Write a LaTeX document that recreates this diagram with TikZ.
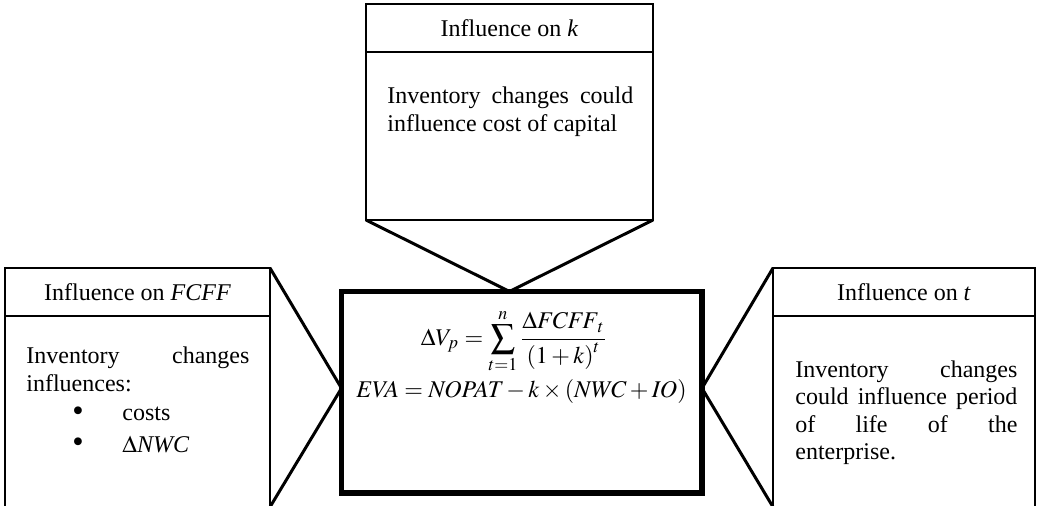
\documentclass[tikz,border=0pt]{standalone}
\usepackage{mathptmx}
\usepackage[no-math]{fontspec}
\setmainfont{Liberation Serif}
\usetikzlibrary{positioning,calc}

\newcommand{\bigdot}{\raisebox{-0.2pt}{\scalebox{1.35}{\textbullet}}}

\tikzset{
  cell/.style={draw, line width=0.7pt, rectangle, inner sep=0pt, outer sep=0pt},
  body/.style={inner sep=0pt, align=justify, anchor=north west},
  formula/.style={inner sep=0pt},
  arm/.style={line width=1.5pt},
  core/.style={draw, line width=2.6pt, rectangle, inner sep=0pt, outer sep=0pt}
}

\begin{document}
\begin{tikzpicture}[x=0.5pt, y=-0.5pt, font=\fontsize{12}{13.8}\selectfont]
        \useasboundingbox (0,0) rectangle (1038,506);

        % central box
        \node[core, minimum width=180.25pt, minimum height=100.75pt] (centre) at (521.75,392.25) {};
        \node[formula] (npv) at (514,341) {$\displaystyle \Delta V_{p}=\sum_{t=1}^{n}\frac{\Delta \mathit{FCFF}_{t}}{\left(1+k\right)^{t}}$};
        \node[formula] (eva) at (521.5,392) {$\mathit{EVA}=\mathit{NOPAT}-k\times(\mathit{NWC}+\mathit{IO})$};

        % top box
        \node[cell, minimum width=143.5pt, minimum height=24pt] (khead) at (509.5,28) {Influence on \textit{k}};
        \node[cell, minimum width=143.5pt, minimum height=84pt, below=0pt of khead] (kbody) {};
        \node[body, text width=123pt] (ktext) at (387,86.5) {Inventory changes could\linebreak influence cost of capital};

        % left box
        \node[cell, minimum width=132.5pt, minimum height=24pt] (fhead) at (137.5,292) {Influence on \textit{FCFF}};
        \node[cell, minimum width=132.5pt, minimum height=95.5pt, below=0pt of fhead] (fbody) {};
        \node[body, text width=111.5pt] (ftext) at (26,346.5) {Inventory changes\linebreak influences:\\[1pt]
          \makebox[48pt][l]{\hspace*{23pt}\bigdot}costs\\[2pt]
          \makebox[48pt][l]{\hspace*{23pt}\bigdot}\(\Delta\)\textit{NWC}};

        % right box
        \node[cell, minimum width=131pt, minimum height=24pt] (thead) at (904,292) {Influence on \textit{t}};
        \node[cell, minimum width=131pt, minimum height=95.5pt, below=0pt of thead] (tbody) {};
        \node[body, text width=111pt] (ttext) at (795,360) {Inventory changes\linebreak could influence period\linebreak of life of the\linebreak enterprise.};

        % arms
        \draw[arm] (kbody.south west) -- (kbody.south |- centre.north) -- (kbody.south east);
        \draw[arm] (fhead.north east) -- ([yshift=2pt]centre.west) -- (fbody.south east);
        \draw[arm] (thead.north west) -- ([yshift=2pt]centre.east) -- (tbody.south west);
\end{tikzpicture}
\end{document}
